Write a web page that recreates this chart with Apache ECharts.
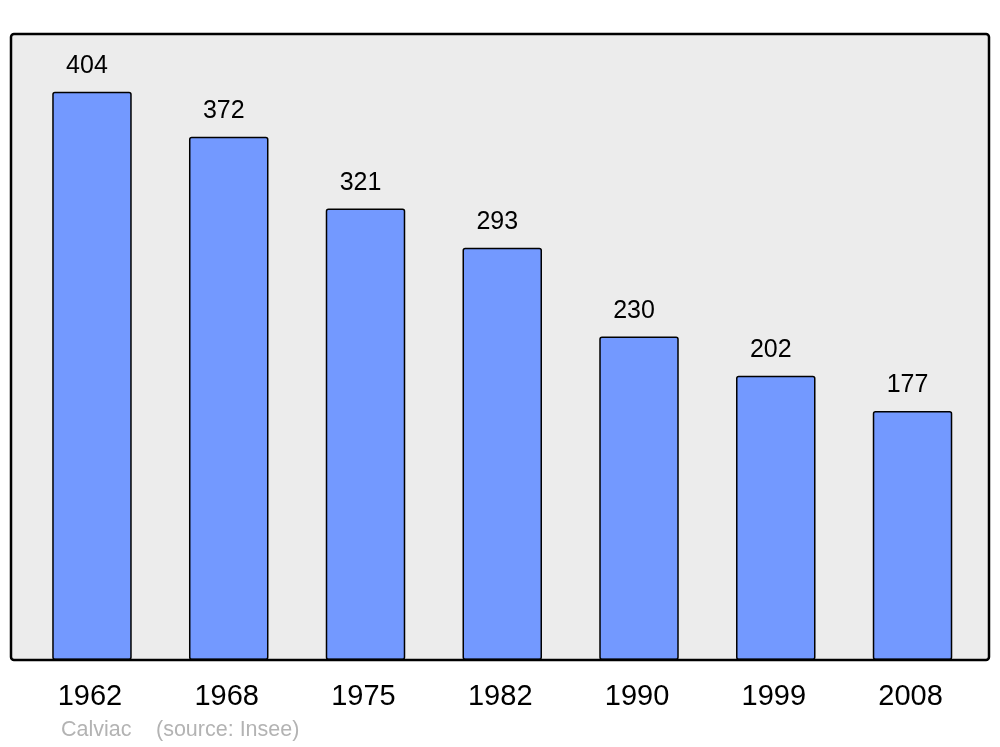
<!DOCTYPE html>
<html>
<head>
<meta charset="utf-8">
<script src="https://cdn.jsdelivr.net/npm/echarts@6/dist/echarts.min.js"></script>
<style>
html,body{margin:0;padding:0;background:#ffffff;}
#chart{width:1000px;height:747px;}
</style>
</head>
<body>
<div id="chart"></div>
<script>
const years = ['1962', '1968', '1975', '1982', '1990', '1999', '2008'];
const population = [404, 372, 321, 293, 230, 202, 177];
const placeName = 'Calviac';
const sourceText = '(source: Insee)';

const chart = echarts.init(document.getElementById('chart'), null, {renderer: 'canvas'});
chart.setOption({
  animation: false,
  backgroundColor: '#ffffff',
  grid: {left: 23.6, right: 19.1, top: 34, bottom: 87, containLabel: false},
  xAxis: {
    type: 'category',
    data: years,
    axisLine: {show: false},
    axisTick: {show: false},
    axisLabel: {
      color: '#000000',
      fontFamily: 'Liberation Sans',
      fontSize: 29,
      margin: 22,
      padding: [0, 4, 0, 0],
      interval: 0
    }
  },
  yAxis: {
    type: 'value',
    min: 0,
    max: 445,
    show: false,
    splitLine: {show: false}
  },
  graphic: [
    {
      type: 'rect',
      z: -10,
      silent: true,
      shape: {x: 11, y: 34, width: 978, height: 626, r: 3},
      style: {fill: '#ececec', stroke: null}
    },
    {
      type: 'rect',
      z: 100,
      silent: true,
      shape: {x: 11, y: 34, width: 978, height: 626, r: 3},
      style: {fill: null, stroke: '#000000', lineWidth: 2.5}
    },
    {
      type: 'text',
      left: 61,
      top: 719,
      style: {text: placeName, fill: '#b3b3b3', font: '21.5px "Liberation Sans"'}
    },
    {
      type: 'text',
      left: 156,
      top: 719,
      style: {text: sourceText, fill: '#b3b3b3', font: '21.5px "Liberation Sans"'}
    }
  ],
  series: [{
    type: 'bar',
    data: population,
    barWidth: 79.5,
    itemStyle: {
      color: '#7399ff',
      borderColor: '#000000',
      borderWidth: 1.5,
      borderRadius: 2
    },
    label: {
      show: true,
      position: 'top',
      distance: 13,
      offset: [-5, 0],
      color: '#000000',
      fontFamily: 'Liberation Sans',
      fontSize: 25
    }
  }]
});
</script>
</body>
</html>
